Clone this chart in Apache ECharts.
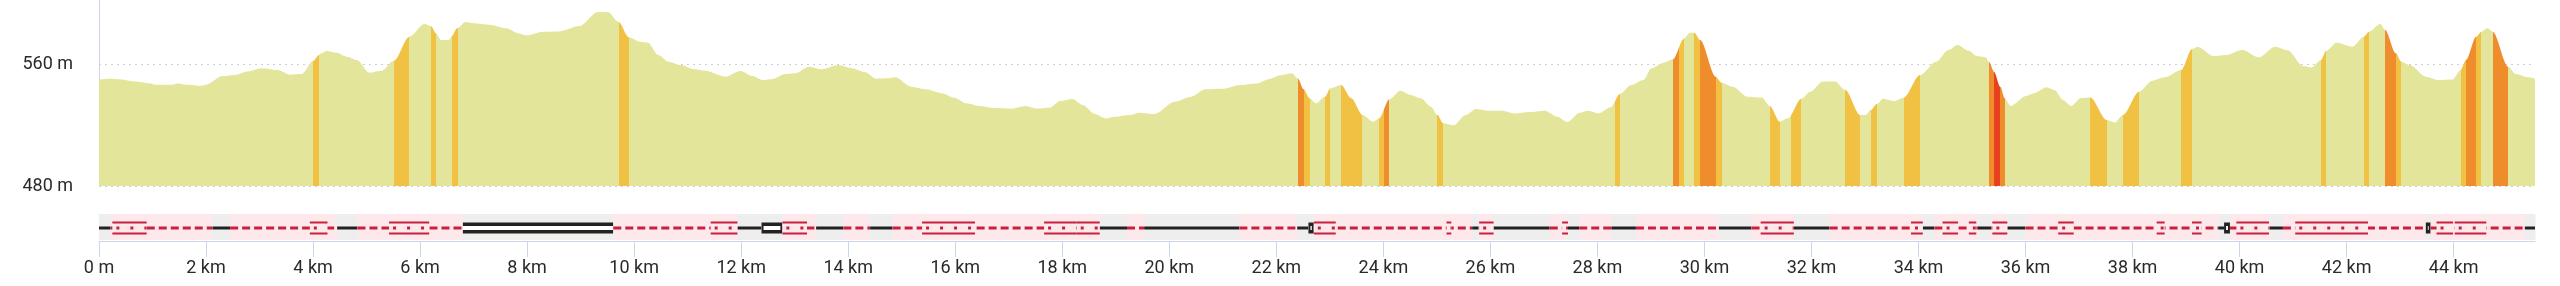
<!DOCTYPE html>
<html><head><meta charset="utf-8">
<script src="https://cdn.jsdelivr.net/npm/echarts@6/dist/echarts.min.js"></script>
<style>html,body{margin:0;padding:0;background:#fff}#c{width:2560px;height:286px}</style>
</head><body><div id="c"></div>
<script>
// distance along route (km) and elevation (m)
const distKm = [0,0.21,0.36,0.67,0.97,1.05,1.35,1.47,1.66,1.89,2.0,2.31,2.54,2.80,3.03,3.34,3.57,3.79,4.0,4.11,4.18,4.25,4.44,4.63,4.82,5.05,5.28,5.51,5.80,6.08,6.20,6.30,6.39,6.54,6.60,6.69,6.85,7.0,7.3,7.61,7.84,7.99,8.3,8.6,8.98,9.32,9.51,9.71,9.90,10.11,10.26,10.45,10.64,10.87,11.10,11.33,11.71,11.98,12.21,12.4,12.59,12.82,13.01,13.27,13.50,13.81,14.07,14.30,14.53,14.72,14.88,15.18,15.45,15.75,15.98,16.21,16.44,16.74,17.05,17.32,17.51,17.77,17.96,18.19,18.38,18.61,18.80,18.99,19.26,19.45,19.72,20.1,20.41,20.67,21.02,21.32,21.63,21.89,22.07,22.29,22.40,22.51,22.62,22.74,22.91,23.01,23.21,23.40,23.61,23.81,23.92,24.11,24.32,24.51,24.70,24.89,25.01,25.12,25.31,25.54,25.73,25.96,26.22,26.45,26.72,27.02,27.25,27.44,27.67,27.83,28.02,28.25,28.42,28.63,28.86,29.01,29.24,29.41,29.62,29.73,29.81,29.92,30.21,30.32,30.53,30.80,31.07,31.22,31.41,31.56,31.81,31.98,32.21,32.44,32.63,32.91,33.01,33.11,33.22,33.34,33.55,33.72,34.03,34.33,34.56,34.73,34.94,35.09,35.25,35.32,35.41,35.53,35.61,35.72,36.01,36.16,36.39,36.54,36.70,36.85,37.04,37.21,37.52,37.67,37.82,38.12,38.37,38.60,38.91,39.11,39.21,39.52,39.75,40.05,40.36,40.66,40.89,41.19,41.35,41.52,41.62,41.81,42.11,42.32,42.42,42.63,42.72,42.92,43.02,43.18,43.48,43.71,43.98,44.13,44.23,44.42,44.52,44.63,44.73,45.02,45.16,45.39,45.52];
const elevM = [549.9,550.4,550,548.6,547.3,546.4,546.4,547.3,546.4,545.6,546.4,552.1,552.8,555.2,557.2,556.1,553,553.4,562,566,567.4,568.5,567.4,564.8,562.6,554.3,555.6,562.2,577.9,586.2,584.9,580,575.7,575.7,578.5,583.4,587.5,586.7,585.8,583.4,580.1,578.8,581.2,581.4,584.9,594.1,594.1,587.5,577.5,574.6,574,565.9,561.5,559.3,556.7,555.6,551.7,555.4,552.1,549.5,550.2,553.4,553.9,558.2,556.5,559.3,557.2,554.8,550.4,550.6,551.3,545.1,543.4,540.8,537.9,534.2,532.5,531.1,530.7,532.5,530.9,531.4,535.7,537.0,533.1,527.2,524.4,525.5,526.6,528.1,527.2,535.3,538.6,543.4,543.8,546.2,547.3,550.4,552.6,553.9,550.6,543.4,537.5,534.2,538.6,544.0,546.2,537.5,526.6,522.2,524.4,536.8,542.5,539.7,537.5,532,526.6,521.1,519.8,526.6,530.5,529.4,529.4,527.6,528.5,529.4,525.5,522,528.1,529.4,527.6,531.6,540.3,546.2,549.5,557.2,560.9,563.1,576.8,580.5,580.5,575.7,551.7,547.8,545.1,538.6,538.1,532.5,522.2,524.4,537.3,541.9,548.6,548.6,543,526.6,526.6,529.9,533.8,537.3,535.7,537.9,552.8,561.5,569.2,572.5,568.7,565.2,564.4,561.3,555,545.1,537.5,532.5,539.0,540.8,544.7,542.9,536.4,532.5,537.7,538.1,523.3,521.7,526.6,541.9,549.1,551.3,556.1,569.8,571.4,565.2,565.9,569.2,564.4,571.4,569.2,558.7,557.8,562.6,568.7,574,571.4,577.9,581.2,586.2,582.3,567,561.5,559.3,551.7,549.5,549.9,556.1,562.6,577.9,581.2,583.4,581.2,558.2,553.4,551.3,550.4];

// gradient classes: [startKm, endKm, class] 1 = moderate, 2 = steep, 3 = very steep
const gradeSegs = [[4.00,4.11,1],[5.51,5.80,1],[6.20,6.30,1],[6.60,6.70,1],[9.71,9.90,1],[22.40,22.51,2],[22.51,22.62,1],[22.91,23.01,1],[23.21,23.61,1],[23.92,24.01,1],[24.01,24.11,2],[25.01,25.12,1],[28.32,28.42,1],[29.41,29.52,2],[29.52,29.62,1],[29.81,29.92,1],[29.92,30.21,2],[30.21,30.32,1],[31.22,31.41,1],[31.62,31.81,1],[32.63,32.91,1],[33.11,33.22,1],[33.72,34.03,1],[35.32,35.41,2],[35.41,35.53,3],[35.53,35.61,2],[37.21,37.52,1],[37.82,38.12,1],[38.91,39.11,1],[41.52,41.62,1],[42.32,42.42,1],[42.72,42.92,2],[42.92,43.02,1],[44.13,44.23,1],[44.23,44.42,2],[44.42,44.52,1],[44.73,45.02,2]];

// surface: [startKm, endKm, kind] 0 = paved, 1 = unpaved, 2 = main road
const surfaceSegs = [[0,0.22,0],[0.22,2.12,1],[2.12,2.45,0],[2.45,4.45,1],[4.45,4.83,0],[4.83,6.80,1],[6.80,9.61,2],[9.61,11.93,1],[11.93,12.38,0],[12.38,12.77,2],[12.77,13.40,1],[13.40,13.91,0],[13.91,14.41,1],[14.41,14.83,0],[14.83,18.70,1],[18.70,19.21,0],[19.21,19.53,1],[19.53,21.31,0],[21.31,22.39,1],[22.39,22.60,0],[22.60,22.70,2],[22.70,25.66,1],[25.66,25.78,0],[25.78,26.06,1],[26.06,27.11,0],[27.11,27.42,1],[27.42,27.66,0],[27.66,28.26,1],[28.26,28.72,0],[28.72,30.27,1],[30.27,30.88,0],[30.88,31.67,1],[31.67,32.34,0],[32.34,34.08,1],[34.08,34.30,0],[34.30,35.11,1],[35.11,35.36,0],[35.36,35.66,1],[35.66,36.00,0],[36.00,39.60,1],[39.60,39.71,0],[39.71,39.82,2],[39.82,40.56,1],[40.56,40.81,0],[40.81,43.48,1],[43.48,43.57,2],[43.57,45.33,1],[45.33,45.52,0]];

// bridges: [startKm, endKm]
const bridgeSegs = [[0.25,0.89],[3.94,4.27],[5.42,6.17],[11.43,11.93],[12.77,13.23],[15.38,16.37],[17.66,18.27],[18.27,18.70],[22.70,23.11],[25.18,25.27],[25.79,26.06],[27.34,27.45],[31.05,31.67],[33.86,34.08],[34.45,34.74],[34.94,35.08],[35.38,35.66],[36.61,36.90],[38.45,38.60],[39.11,39.29],[39.94,40.55],[41.04,42.40],[43.68,43.99],[44.02,44.61]];

const xTicks = [0,2,4,6,8,10,12,14,16,18,20,22,24,26,28,30,32,34,36,38,40,42,44];
const totalKm = 45.52;

const gradeColors = ['#e3e59b','#f0c143','#ef8c2b','#e8411f'];
const RED = '#c8213e', PINK = '#fde8eb', GREY = '#eeeeee', BLACK = '#222222';

const chart = echarts.init(document.getElementById('c'), null, {renderer:'canvas'});

function renderSurface(params, api) {
  const s = api.coord([api.value(0), 0.5]);
  const e = api.coord([api.value(1), 0.5]);
  const cs = params.coordSys;
  const kind = api.value(2);
  const y = Math.round(s[1]);
  const ch = [{type:'rect', shape:{x:s[0], y:cs.y, width:e[0]-s[0]+0.5, height:cs.height-1}, style:{fill: kind === 1 ? PINK : GREY}}];
  if (kind === 0) {
    ch.push({type:'line', shape:{x1:s[0],y1:y,x2:e[0],y2:y}, style:{stroke:BLACK, lineWidth:3}});
  } else if (kind === 1) {
    ch.push({type:'line', shape:{x1:s[0],y1:y,x2:e[0],y2:y}, style:{stroke:RED, lineWidth:3, lineDash:[8,4]}});
  } else {
    const inset = (e[0] - s[0]) < 30 ? 2 : 0;
    ch.push({type:'line', shape:{x1:s[0],y1:y,x2:e[0],y2:y}, style:{stroke:BLACK, lineWidth:11}});
    ch.push({type:'line', shape:{x1:s[0]+inset,y1:y,x2:e[0]-inset,y2:y}, style:{stroke:'#ffffff', lineWidth:4}});
  }
  return {type:'group', children: ch};
}

function renderBridge(params, api) {
  const s = api.coord([api.value(0), 0.5]);
  const e = api.coord([api.value(1), 0.5]);
  const y = Math.round(s[1]);
  return {type:'group', children:[
    {type:'rect', shape:{x:s[0], y:y-2.5, width:e[0]-s[0], height:5}, style:{fill:PINK}},
    {type:'line', shape:{x1:s[0]+4,y1:y,x2:e[0],y2:y}, style:{stroke:RED, lineWidth:3, lineDash:[3,11]}},
    {type:'line', shape:{x1:s[0],y1:y-5.5,x2:e[0],y2:y-5.5}, style:{stroke:RED, lineWidth:2}},
    {type:'line', shape:{x1:s[0],y1:y+5.5,x2:e[0],y2:y+5.5}, style:{stroke:RED, lineWidth:2}}
  ]};
}

const FONT = 'Roboto';
chart.setOption({
  animation: false,
  grid: [
    {left: 99, right: 25, top: 0, height: 186},
    {left: 99, right: 25, top: 214, height: 27}
  ],
  xAxis: [
    {gridIndex: 0, type: 'value', min: 0, max: totalKm, show: false},
    {gridIndex: 1, type: 'value', min: 0, max: totalKm,
     axisLine: {show: true, lineStyle: {color: '#ccd6eb', width: 1}},
     axisTick: {show: true, length: 16, lineStyle: {color: '#ccd6eb'}, customValues: xTicks},
     axisLabel: {customValues: xTicks, margin: 18, fontSize: 18, color: '#2a2a2a', fontFamily: FONT,
       formatter: v => v === 0 ? '0 m' : v + ' km'},
     splitLine: {show: false}}
  ],
  yAxis: [
    {gridIndex: 0, type: 'value', min: 480, max: 602, interval: 80,
     axisLine: {show: true, lineStyle: {color: '#ccd6eb', width: 1}},
     axisTick: {show: false},
     axisLabel: {showMaxLabel: false, margin: 26, fontSize: 18, color: '#2a2a2a', fontFamily: FONT,
       padding: [0, 0, 8, 0], formatter: v => v + ' m'},
     splitLine: {show: true, lineStyle: {color: ['#cfcfcf','#cfcfcf','rgba(0,0,0,0)'], type: [2,4], width: 1}}},
    {gridIndex: 1, type: 'value', min: 0, max: 1, show: false}
  ],
  visualMap: {
    type: 'piecewise', show: false, dimension: 0, seriesIndex: 0,
    pieces: gradeSegs.map(g => ({gte: g[0], lt: g[1], color: gradeColors[g[2]]})),
    outOfRange: {color: gradeColors[0]}
  },
  series: [
    {type: 'line', xAxisIndex: 0, yAxisIndex: 0, silent: true,
     data: distKm.map((d, i) => [d, elevM[i]]),
     showSymbol: false, symbol: 'none', smooth: 0.3, smoothMonotone: 'x',
     lineStyle: {width: 0}, areaStyle: {opacity: 1}},
    {type: 'custom', xAxisIndex: 1, yAxisIndex: 1, silent: true,
     data: surfaceSegs, encode: {x: [0, 1]}, renderItem: renderSurface},
    {type: 'custom', xAxisIndex: 1, yAxisIndex: 1, silent: true,
     data: bridgeSegs, encode: {x: [0, 1]}, renderItem: renderBridge}
  ]
});
</script></body></html>
